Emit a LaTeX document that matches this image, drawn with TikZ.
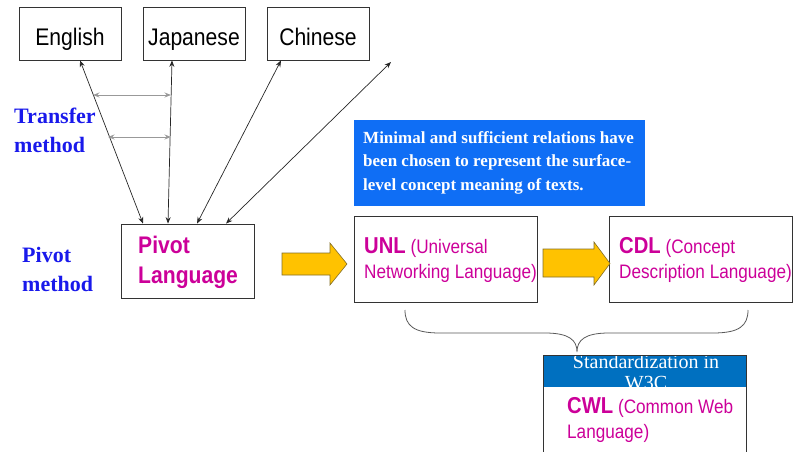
\documentclass[tikz,border=0pt]{standalone}
\usepackage{fontspec}
\setmainfont{Liberation Sans}[FakeStretch=0.88]
\newfontfamily\tnr{Liberation Serif}
\usetikzlibrary{arrows.meta}
\definecolor{mag}{RGB}{204,0,153}
\definecolor{tblue}{RGB}{25,25,235}
\definecolor{boxblue}{RGB}{15,110,245}
\definecolor{bandblue}{RGB}{0,112,192}
\definecolor{ayellow}{RGB}{255,194,0}
\definecolor{aedge}{RGB}{130,110,40}
\begin{document}
\begin{tikzpicture}[x=1pt,y=-1pt,
  langbox/.style={draw=black!80, line width=0.8pt, minimum width=102pt, minimum height=53pt, inner sep=0pt, text height=25pt, text depth=0pt, font=\fontsize{24}{28}\selectfont},
  bigbox/.style={draw=black!80, line width=0.8pt, inner sep=0pt},
  link/.style={{Stealth[length=6.5pt,width=5pt]}-{Stealth[length=6.5pt,width=5pt]}, line width=0.7pt, black!85},
  glink/.style={{Stealth[length=6.5pt,width=5pt]}-{Stealth[length=6.5pt,width=5pt]}, line width=0.9pt, black!40},
  methodtxt/.style={anchor=base west, inner sep=0pt, text=tblue, font=\tnr\bfseries\fontsize{22}{26}\selectfont},
  magtxt/.style={anchor=base west, inner sep=0pt, text=mag, font=\fontsize{19.5}{24}\selectfont},
  blockarrow/.style={fill=ayellow, draw=aedge, line width=0.6pt, line join=miter}
]
\useasboundingbox (0,0) rectangle (793,452);

% language boxes
\node[langbox] (English)  at (70,33.5)  {English};
\node[langbox] (Japanese) at (194,33.5) {Japanese};
\node[langbox] (Chinese)  at (318,33.5) {Chinese};

% pivot box
\node[bigbox, minimum width=133pt, minimum height=74pt] (Pivot) at (187.5,261) {};
\node[magtxt, font=\bfseries\fontsize{24}{28}\selectfont] (pv1) at (138,253) {Pivot};
\node[magtxt, font=\bfseries\fontsize{24}{28}\selectfont] (pv2) at (138,283) {Language};

% method labels
\node[methodtxt] (tm1) at (14,123) {Transfer};
\node[methodtxt] (tm2) at (14,152) {method};
\node[methodtxt] (pm1) at (22,262) {Pivot};
\node[methodtxt] (pm2) at (22,291) {method};

% connectors
\coordinate (free) at (391,62);
\draw[link] ([xshift=10pt]English.south) -- ([xshift=-44.5pt]Pivot.north);
\draw[link] ([xshift=-22pt]Japanese.south) -- ([xshift=-19.5pt]Pivot.north);
\draw[link] ([xshift=-37pt]Chinese.south) -- ([xshift=9.5pt]Pivot.north);
\draw[link] (free) -- ([xshift=38.5pt]Pivot.north);

\coordinate (g1a) at (93,95);
\coordinate (g1b) at (171,95);
\coordinate (g2a) at (108,137);
\coordinate (g2b) at (171,137);
\draw[glink] (g1a) -- (g1b);
\draw[glink] (g2a) -- (g2b);

% blue note
\node[fill=boxblue, minimum width=291pt, minimum height=86pt, inner sep=0pt] (note) at (499.5,163) {};
\node[anchor=north west, inner sep=0pt, align=left, text=white,
      font=\tnr\bfseries\fontsize{17}{23.5}\selectfont] (notetxt) at (363,131)
  {Minimal and sufficient relations have\\been chosen to represent the surface-\\level concept meaning of texts.};

% UNL and CDL boxes
\node[bigbox, minimum width=183pt, minimum height=86pt] (UNL) at (445.5,259) {};
\node[magtxt] (unl1) at (364,253) {{\bfseries\fontsize{23}{28}\selectfont UNL} (Universal};
\node[magtxt] (unl2) at (364,278) {Networking Language)};

\node[bigbox, minimum width=183pt, minimum height=86pt] (CDL) at (700.5,259) {};
\node[magtxt] (cdl1) at (619,253) {{\bfseries\fontsize{23}{28}\selectfont CDL} (Concept};
\node[magtxt] (cdl2) at (619,278) {Description Language)};

% block arrows
\draw[blockarrow] (282,253) -- (330,253) -- (330,243) -- (347,264) -- (330,285) -- (330,275) -- (282,275) -- cycle;
\draw[blockarrow] (543,249) -- (594,249) -- (594,242) -- (610,263.5) -- (594,285) -- (594,277) -- (543,277) -- cycle;

% brace
\draw[black!65, line width=0.8pt]
  (405,310) .. controls (405,326) and (414,333) .. (440,333)
  -- (545,333) .. controls (569,333) and (577,340) .. (577,352)
  .. controls (577,340) and (585,333) .. (609,333)
  -- (713,333) .. controls (739,333) and (748,326) .. (748,310);

% CWL box
\fill[bandblue] (543,355) rectangle (746,387);
\begin{scope}
  \clip (543,355) rectangle (746,387);
  \node[anchor=base, inner sep=0pt, text=white, font=\tnr\fontsize{20}{24}\selectfont] (st1) at (646,368) {Standardization in};
  \node[anchor=base, inner sep=0pt, text=white, font=\tnr\fontsize{20}{24}\selectfont] (st2) at (646,389) {W3C};
\end{scope}
\draw[black!80, line width=0.8pt] (543,452) -- (543,355) -- (746,355) -- (746,452);
\node[magtxt] (cwl1) at (567,413) {{\bfseries\fontsize{23}{28}\selectfont CWL} (Common Web};
\node[magtxt] (cwl2) at (567,438) {Language)};
\end{tikzpicture}
\end{document}
